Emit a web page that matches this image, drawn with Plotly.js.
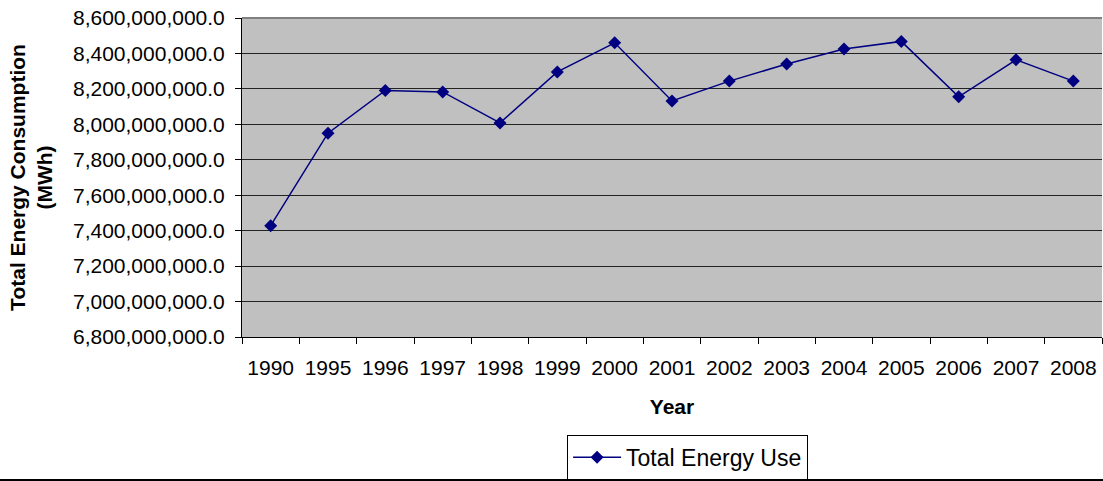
<!DOCTYPE html>
<html>
<head>
<meta charset="utf-8">
<script src="https://cdn.plot.ly/plotly-3.0.1.min.js"></script>
<style>
html,body{margin:0;padding:0;background:#fff;}
#chart{width:1103px;height:481px;}
</style>
</head>
<body>
<div id="chart"></div>
<script>
var years = ["1990","1995","1996","1997","1998","1999","2000","2001","2002","2003","2004","2005","2006","2007","2008"];
var totalEnergyUse = [7428000000, 7950000000, 8191000000, 8183000000, 8008000000, 8296000000, 8460000000, 8132000000, 8244000000, 8340000000, 8425000000, 8468000000, 8155000000, 8364000000, 8244000000];
var seriesName = "Total Energy Use";

var font = "Liberation Sans, Arial, sans-serif";

var trace = {
  x: years,
  y: totalEnergyUse,
  type: "scatter",
  mode: "lines+markers",
  name: seriesName,
  line: {color: "#000080", width: 1.5},
  marker: {symbol: "diamond", size: 10, color: "#000080"}
};

var layout = {
  width: 1103,
  height: 481,
  margin: {l: 242, r: 1, t: 18, b: 144},
  paper_bgcolor: "#ffffff",
  plot_bgcolor: "#c0c0c0",
  font: {family: font, size: 21, color: "#000"},
  showlegend: true,
  legend: {
    x: 0.378, y: -0.448, xanchor: "left", yanchor: "bottom",
    bordercolor: "#000", borderwidth: 1, bgcolor: "#fff",
    itemwidth: 48,
    font: {family: font, size: 23, color: "#000"}
  },
  xaxis: {
    type: "category",
    range: [-0.5, 14.5],
    tickson: "boundaries",
    ticks: "outside",
    ticklen: 6,
    tickcolor: "#000",
    ticklabelstandoff: 12,
    showline: true,
    linecolor: "#000",
    linewidth: 1,
    showgrid: false,
    tickfont: {family: font, size: 21, color: "#000"},
    title: {text: "<b>Year</b>", font: {family: font, size: 21, color: "#000"}, standoff: 21}
  },
  yaxis: {
    range: [6.8e9, 8.6e9],
    dtick: 2e8,
    tick0: 6.8e9,
    tickformat: ",.1f",
    ticks: "outside",
    ticklen: 6,
    tickcolor: "#000",
    ticklabelstandoff: 6,
    showline: true,
    linecolor: "#000",
    linewidth: 1,
    showgrid: true,
    gridcolor: "#222",
    gridwidth: 1,
    zeroline: false,
    tickfont: {family: font, size: 21, color: "#000"},
    title: {text: "<b>Total Energy Consumption<br>(MWh)</b>", font: {family: font, size: 21, color: "#000"}, standoff: 14}
  },
  shapes: [
    {type: "line", xref: "paper", yref: "paper", x0: 0, x1: 1, y0: 1, y1: 1, line: {color: "#808080", width: 2}},
    {type: "line", xref: "paper", yref: "paper", x0: -0.29, x1: 1.01, y0: -0.448, y1: -0.448, line: {color: "#000", width: 2}}
  ]
};

Plotly.newPlot("chart", [trace], layout, {displayModeBar: false, staticPlot: true});
</script>
</body>
</html>
